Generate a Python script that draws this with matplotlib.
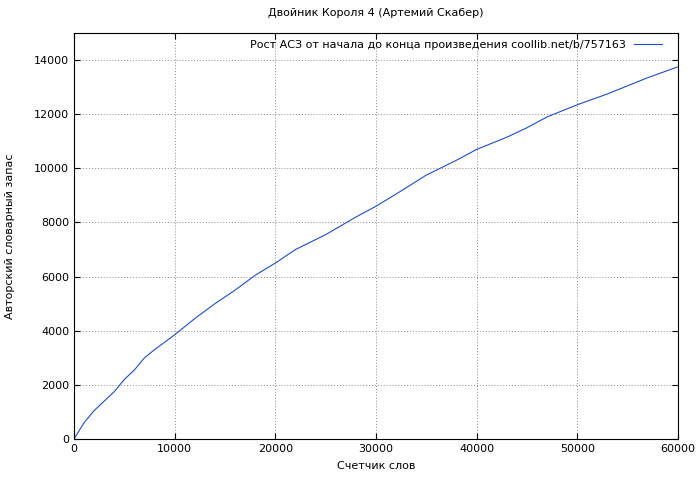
import matplotlib
matplotlib.use("Agg")
import matplotlib.pyplot as plt

words = [0, 500, 1000, 2000, 3000, 4000, 5000, 6000, 7000, 8000, 10000, 12000, 14000, 16000,
         18000, 20000, 22000, 25000, 28000, 30000, 32000, 35000, 38000, 40000, 43000,
         45000, 47000, 50000, 53000, 55000, 57000, 60000]
vocab = [0, 300, 600, 1050, 1400, 1750, 2200, 2550, 3000, 3300, 3850, 4450, 5000, 5500,
         6050, 6500, 7000, 7550, 8200, 8600, 9050, 9750, 10300, 10700, 11150,
         11500, 11900, 12350, 12750, 13050, 13350, 13750]
xticks = [0, 10000, 20000, 30000, 40000, 50000, 60000]
yticks = [0, 2000, 4000, 6000, 8000, 10000, 12000, 14000]

plt.rcParams['font.family'] = ['DejaVu Sans']
plt.rcParams['font.size'] = 8
fig = plt.figure(figsize=(7, 4.8), dpi=100)
ax = fig.add_axes([74/700, 1-439/480, 604/700, 406/480])
ax.plot(words, vocab, color='#1f4fbf', lw=0.8,
        label='Рост АСЗ от начала до конца произведения coollib.net/b/757163')
ax.set_xlim(0, 60000)
ax.set_ylim(0, 15000)
ax.set_xticks(xticks)
ax.set_yticks(yticks)
ax.grid(True, linestyle=(0, (1, 2)), color='#888888', lw=0.7)
ax.tick_params(direction='in', length=4, top=True, right=True)
ax.set_xlabel('Счетчик слов', labelpad=5)
ax.set_ylabel('Авторский словарный запас', labelpad=14)
ax.set_title('Двойник Короля 4 (Артемий Скабер)', fontsize=8, pad=12)
leg = ax.legend(loc='upper right', frameon=False, markerfirst=False, handlelength=2.5,
                borderaxespad=0.2, bbox_to_anchor=(0.985, 1.0))
fig.savefig('out.png', dpi=100)
